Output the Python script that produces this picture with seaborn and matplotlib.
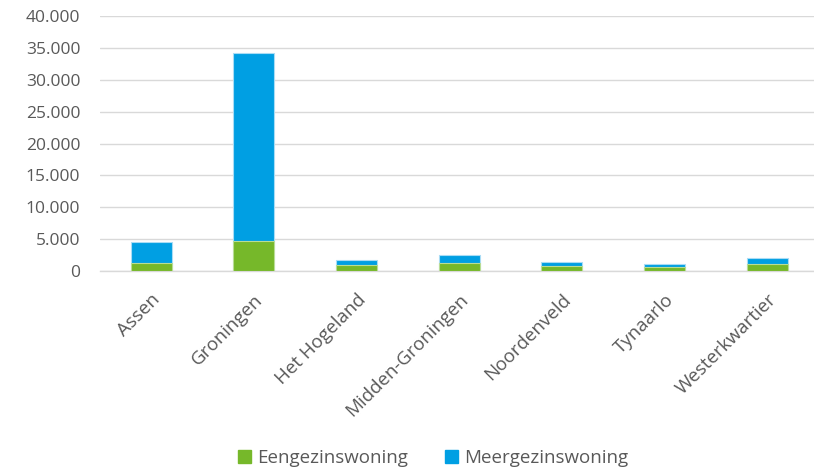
import matplotlib
matplotlib.use("Agg")
import matplotlib.pyplot as plt
import seaborn as sns
import pandas as pd
from matplotlib.patches import Patch
from matplotlib.ticker import FuncFormatter, MultipleLocator

categories = ["Assen", "Groningen", "Het Hogeland", "Midden-Groningen",
              "Noordenveld", "Tynaarlo", "Westerkwartier"]
eengezins = [1200, 4750, 900, 1200, 740, 630, 1050]
meergezins = [3400, 29450, 830, 1260, 630, 520, 950]
totals = [a + b for a, b in zip(eengezins, meergezins)]

green = "#76B82A"
blue = "#009FE3"

sns.set_theme(style="white")
plt.rcParams["font.family"] = ["Open Sans", "DejaVu Sans"]

df = pd.DataFrame({"Gemeente": categories, "Eengezinswoning": eengezins,
                   "Totaal": totals})

fig = plt.figure(figsize=(8.14, 4.71), dpi=100)
ax = fig.add_axes([99.7 / 814, 0.4246, 718.7 / 814, 0.5414])

sns.barplot(data=df, x="Gemeente", y="Totaal", color=blue, width=0.4,
            saturation=1, ax=ax, edgecolor="#a9dcf5", linewidth=0.8, zorder=3)
sns.barplot(data=df, x="Gemeente", y="Eengezinswoning", color=green, width=0.4,
            saturation=1, ax=ax, edgecolor="#b9dc95", linewidth=0.8, zorder=4)

ax.set_ylim(0, 40000)
ax.set_xlim(-0.5, 6.5)
ax.yaxis.set_major_locator(MultipleLocator(5000))
ax.yaxis.set_major_formatter(FuncFormatter(lambda v, p: f"{int(v):,}".replace(",", ".")))
ax.grid(axis="y", color="#d9d9d9", linewidth=1, zorder=0)
ax.set_axisbelow(True)
for s in ["top", "right", "left"]:
    ax.spines[s].set_visible(False)
ax.spines["bottom"].set_color("#d9d9d9")
ax.spines["bottom"].set_linewidth(1)
ax.set_xlabel("")
ax.set_ylabel("")
ax.tick_params(axis="both", length=0, colors="#595959")
ax.tick_params(axis="y", pad=14, labelsize=12.5)
ax.tick_params(axis="x", pad=14, labelsize=13.5)
plt.setp(ax.get_xticklabels(), rotation=45, ha="right", rotation_mode="anchor")

handles = [Patch(color=green, label="Eengezinswoning"),
           Patch(color=blue, label="Meergezinswoning")]
leg = fig.legend(handles=handles, loc="center", bbox_to_anchor=(0.532, 0.027),
                 ncol=2, frameon=False, fontsize=13.5, handlelength=0.7,
                 handleheight=0.7, handletextpad=0.3, columnspacing=2.0)
for t in leg.get_texts():
    t.set_color("#595959")

fig.savefig("out.png", dpi=100)
